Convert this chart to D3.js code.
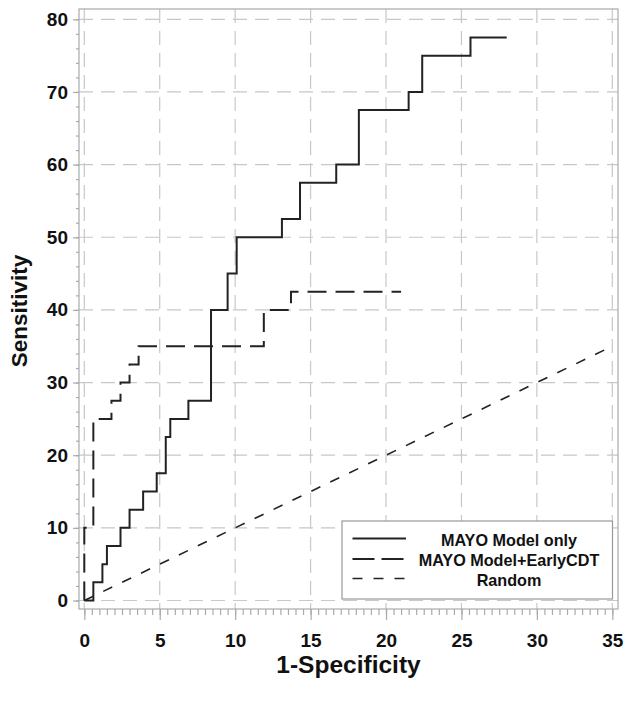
<!DOCTYPE html>
<html><head><meta charset="utf-8">
<script src="https://cdn.jsdelivr.net/npm/d3@7"></script>
<style>html,body{margin:0;padding:0;background:#fff;}svg{display:block;}</style>
</head><body>
<script>
// ---- data ----
const xTicks = [0, 5, 10, 15, 20, 25, 30, 35];
const yTicks = [0, 10, 20, 30, 40, 50, 60, 70, 80];
const seriesNames = ["MAYO Model only", "MAYO Model+EarlyCDT", "Random"];
// MAYO Model only: step points [1-specificity, sensitivity]
const mayoFpr  = [0, 0.6, 1.2, 1.5, 2.4, 3.0, 3.9, 4.8, 5.4, 5.7, 6.9, 8.4, 9.5, 10.1, 13.1, 14.3, 16.7, 18.2, 21.5, 22.4, 25.6, 28.0];
const mayoSens = [0, 2.5, 5, 7.5, 10, 12.5, 15, 17.5, 22.5, 25, 27.5, 40, 45, 50, 52.5, 57.5, 60, 67.5, 70, 75, 77.5, 77.5];
// MAYO Model + EarlyCDT
const cdtFpr  = [0, 0, 0.6, 1.8, 2.4, 3.0, 3.6, 11.9, 13.7, 21.0];
const cdtSens = [0, 10, 25, 27.5, 30, 32.5, 35, 40, 42.5, 42.5];
// Random reference line
const randFpr  = [0, 35];
const randSens = [0, 35];

// ---- layout ----
const W = 632, H = 709;
const frame = {l: 79, t: 9, r: 618, b: 609};
const svg = d3.select("body").append("svg").attr("width", W).attr("height", H);
const x = d3.scaleLinear().domain([0, 35]).range([84.3, 612.3]);
const y = d3.scaleLinear().domain([0, 80]).range([600.5, 19.3]);
const font = "'Liberation Sans', Arial, Helvetica, sans-serif";
const gridColor = "#c8c8c8", frameColor = "#aaaaaa", lineColor = "#222";

// grid
const g = svg.append("g");
g.selectAll("line.hg").data(yTicks).join("line")
  .attr("x1", frame.l).attr("x2", frame.r)
  .attr("y1", d => y(d)).attr("y2", d => y(d))
  .attr("stroke", gridColor).attr("stroke-width", 1.2).attr("stroke-dasharray", "14,8");
g.selectAll("line.vg").data(xTicks).join("line")
  .attr("y1", frame.t).attr("y2", frame.b)
  .attr("x1", d => x(d)).attr("x2", d => x(d))
  .attr("stroke", gridColor).attr("stroke-width", 1.2).attr("stroke-dasharray", "14,8");

// frame
svg.append("rect").attr("x", frame.l).attr("y", frame.t)
  .attr("width", frame.r - frame.l).attr("height", frame.b - frame.t)
  .attr("fill", "none").attr("stroke", frameColor).attr("stroke-width", 1.2);

// axes
const xMinor = d3.range(0, 35.01, 0.5);
const yMinor = d3.range(0, 80.01, 2);
const xAxisMinor = d3.axisBottom(x).tickValues(xMinor).tickSize(6).tickFormat("");
const xAxisMajor = d3.axisBottom(x).tickValues(xTicks).tickSize(11).tickPadding(14).tickFormat(d3.format("d"));
const yAxisMinor = d3.axisLeft(y).tickValues(yMinor).tickSize(3).tickFormat("");
const yAxisMajor = d3.axisLeft(y).tickValues(yTicks).tickSize(6).tickPadding(5).tickFormat(d3.format("d"));
function styleAxis(sel) {
  sel.select(".domain").remove();
  sel.selectAll(".tick line").attr("stroke", frameColor).attr("stroke-width", 1.2);
  sel.selectAll(".tick text").attr("fill", "#111").style("font-family", font)
     .style("font-size", "19px").style("font-weight", "bold");
}
svg.append("g").attr("transform", `translate(0,${frame.b})`).call(xAxisMinor).call(styleAxis);
svg.append("g").attr("transform", `translate(0,${frame.b})`).call(xAxisMajor).call(styleAxis);
svg.append("g").attr("transform", `translate(${frame.l},0)`).call(yAxisMinor).call(styleAxis);
svg.append("g").attr("transform", `translate(${frame.l},0)`).call(yAxisMajor).call(styleAxis);

// axis titles
svg.append("text").attr("x", (frame.l + frame.r) / 2).attr("y", 673)
  .attr("text-anchor", "middle").style("font-family", font).style("font-weight", "bold")
  .style("font-size", "24.5px").attr("fill", "#111").text("1-Specificity");
svg.append("text").attr("transform", `translate(27,${(frame.t + frame.b) / 2 + 2}) rotate(-90)`)
  .attr("text-anchor", "middle").style("font-family", font).style("font-weight", "bold")
  .style("font-size", "22.5px").attr("fill", "#111").text("Sensitivity");

// curves
const step = d3.line().x(d => x(d[0])).y(d => y(d[1])).curve(d3.curveStepAfter);
const straight = d3.line().x(d => x(d[0])).y(d => y(d[1]));
const styles = [
  {dash: null, width: 2},
  {dash: "19,9", width: 2},
  {dash: "10,11", width: 1.6}
];
svg.append("path").datum(d3.zip(mayoFpr, mayoSens)).attr("d", step)
  .attr("fill", "none").attr("stroke", lineColor).attr("stroke-width", styles[0].width);
svg.append("path").datum(d3.zip(cdtFpr, cdtSens)).attr("d", step)
  .attr("fill", "none").attr("stroke", lineColor).attr("stroke-width", styles[1].width)
  .attr("stroke-dasharray", styles[1].dash);
svg.append("path").datum(d3.zip(randFpr, randSens)).attr("d", straight)
  .attr("fill", "none").attr("stroke", lineColor).attr("stroke-width", styles[2].width)
  .attr("stroke-dasharray", styles[2].dash);

// legend
const leg = {l: 342, t: 521, r: 612.5, b: 599};
svg.append("rect").attr("x", leg.l).attr("y", leg.t).attr("width", leg.r - leg.l).attr("height", leg.b - leg.t)
  .attr("fill", "#fff").attr("stroke", "#999").attr("stroke-width", 1.2);
const rowY = [538.5, 559, 578.5];
seriesNames.forEach((name, i) => {
  svg.append("line").attr("x1", 352.5).attr("x2", 406).attr("y1", rowY[i]).attr("y2", rowY[i])
    .attr("stroke", lineColor).attr("stroke-width", styles[i].width)
    .attr("stroke-dasharray", i === 1 ? "22,7" : styles[i].dash);
  svg.append("text").attr("x", 509).attr("y", rowY[i] + 7.3).attr("text-anchor", "middle")
    .style("font-family", font).style("font-weight", "bold").style("font-size", "16.2px")
    .attr("fill", "#111").text(name);
});
</script>
</body></html>
